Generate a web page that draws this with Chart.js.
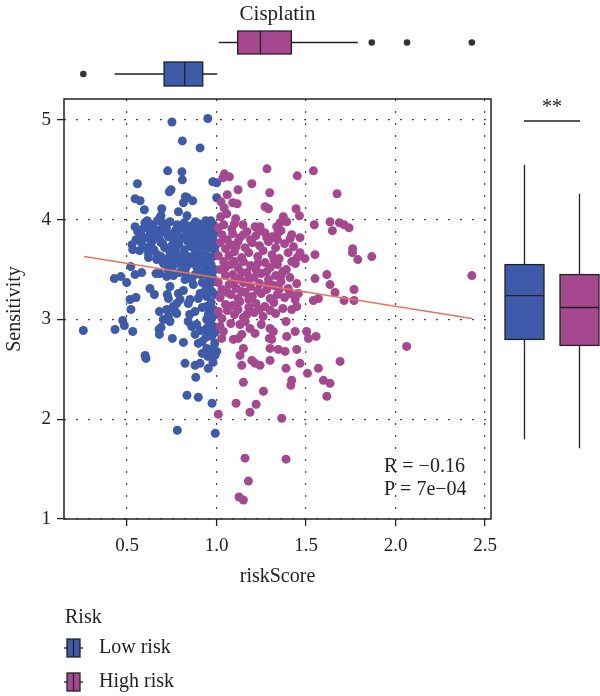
<!DOCTYPE html>
<html>
<head>
<meta charset="utf-8">
<script src="https://cdn.jsdelivr.net/npm/chart.js@4.4.1/dist/chart.umd.min.js"></script>
<style>
  html, body { margin: 0; padding: 0; background: #fff; }
  #wrap { width: 600px; height: 696px; }
</style>
</head>
<body>
<div id="wrap"><canvas id="chart" width="600" height="696"></canvas></div>
<script>
// ── Data ──────────────────────────────────────────────
const drugName = "Cisplatin";
const xTicks = [0.5, 1.0, 1.5, 2.0, 2.5];
const yTicks = [1, 2, 3, 4, 5];
const riskLabels = ["Low risk", "High risk"];

// [riskScore, Sensitivity]
const lowRisk = [
  [0.751,4.98],[0.951,5.015],[0.809,4.79],[0.908,4.72],[0.727,4.49],[0.807,4.48],[0.809,4.40],[0.558,4.36],
  [0.746,4.30],[0.736,4.28],[0.979,4.38],[1.001,4.37],[0.545,4.21],[0.573,4.19],[0.826,4.23],[0.837,4.22],
  [0.867,4.19],[0.815,4.17],[1.001,4.22],[0.597,4.10],[0.694,4.11],[0.787,4.08],[0.835,4.04],[0.882,3.98],
  [0.613,3.99],[0.545,3.93],[0.690,4.04],[0.684,4.02],[0.528,3.75],
  [0.968,3.99],[0.982,3.95],[0.936,3.90],[0.992,3.87],[0.954,3.83],[0.917,3.77],[0.964,3.75],[0.992,3.73],
  [0.532,3.70],[0.521,3.53],[0.429,3.41],[0.466,3.43],[0.498,3.37],[0.545,3.45],[0.582,3.47],[0.628,3.31],
  [0.653,3.25],[0.517,3.20],[0.550,3.22],[0.522,3.10],[0.476,2.99],[0.485,2.94],[0.532,2.88],[0.433,2.90],
  [0.256,2.89],[0.601,2.64],[0.606,2.61],[0.679,2.90],[0.681,2.85],[0.690,2.92],[0.753,2.81],[0.681,3.08],
  [0.722,3.10],[0.759,3.13],[0.768,3.08],[0.725,3.25],[0.731,3.21],[0.787,3.26],[0.815,3.29],[0.824,3.40],
  [0.684,3.46],[0.722,3.43],[0.759,3.44],[0.662,3.46],[0.852,3.20],[0.842,3.16],[0.898,3.21],[0.908,3.26],
  [0.945,3.23],[0.973,3.28],[0.945,3.13],[0.982,3.10],[0.954,3.05],[0.842,2.98],[0.861,2.93],[0.889,2.95],
  [0.908,2.89],[0.945,2.91],[0.973,2.83],[0.982,2.93],[0.815,2.77],[0.898,2.76],[0.945,2.71],[0.992,2.64],
  [1.001,2.68],[0.951,2.63],[0.824,2.56],[0.880,2.54],[0.908,2.56],[0.954,2.51],[0.884,2.42],[0.870,3.35],
  [0.920,3.37],[0.860,3.40],[0.740,3.33],[0.778,3.16],[0.796,3.20],[0.731,3.03],[0.703,3.00],[0.740,2.98],
  [0.778,3.06],[0.945,3.00],[0.973,3.01],[0.666,3.60],[0.703,3.56],[0.740,3.57],[0.778,3.60],[0.815,3.58],
  [0.861,3.60],[0.908,3.56],[0.729,3.50],[0.755,3.53],[0.793,3.47],[0.829,3.45],[0.945,3.53],[0.973,3.46],
  [0.982,3.41],[0.835,2.24],[0.898,2.22],[0.975,2.16],[0.781,1.89],[0.993,1.86],
  [0.60,3.97],[0.64,3.95],[0.67,3.99],[0.71,3.96],[0.74,3.98],[0.78,3.95],[0.82,3.97],[0.86,3.94],
  [0.90,3.96],[0.94,3.99],[0.97,3.95],[0.56,3.88],[0.59,3.91],[0.63,3.86],[0.66,3.90],[0.69,3.87],
  [0.72,3.92],[0.75,3.85],[0.77,3.89],[0.80,3.92],[0.83,3.87],[0.85,3.90],[0.88,3.86],[0.91,3.91],
  [0.93,3.87],[0.96,3.89],[0.99,3.92],[0.55,3.80],[0.58,3.77],[0.61,3.82],[0.64,3.78],[0.68,3.81],
  [0.70,3.76],[0.73,3.83],[0.76,3.79],[0.79,3.76],[0.81,3.82],[0.84,3.78],[0.87,3.81],[0.89,3.76],
  [0.92,3.83],[0.95,3.78],[0.98,3.81],[0.99,3.75],[0.57,3.69],[0.60,3.72],[0.62,3.66],[0.65,3.70],
  [0.67,3.65],[0.71,3.72],[0.74,3.67],[0.77,3.71],[0.80,3.65],[0.82,3.70],[0.86,3.73],[0.88,3.67],
  [0.91,3.70],[0.94,3.65],[0.96,3.72],[0.99,3.68],[0.93,3.58],[0.97,3.55],[0.99,3.50],[0.95,3.44],
  [0.99,3.38],[0.96,3.32],[0.93,3.48],[0.89,3.52],[0.85,3.56],[0.99,3.25],[0.97,3.17],[0.99,3.05],
  [0.96,2.97],[0.99,2.87],[0.94,2.82],[0.99,2.76],[0.97,2.70],
  [0.62,3.62],[0.69,3.63],[0.73,3.61],[0.76,3.64],[0.84,3.63],[0.89,3.62],[0.95,3.61],[0.98,3.63],
  [0.63,3.74],[0.69,3.77],[0.75,3.74],[0.79,3.80],[0.85,3.84],[0.90,3.80],[0.58,3.84],[0.66,3.84],
  [0.72,3.88],[0.78,3.86],[0.81,3.94],[0.87,3.91],[0.92,3.94],[0.70,3.94],[0.62,3.92],[0.94,3.74],
  [0.97,3.85],[0.91,3.63],[0.87,3.57],[0.80,3.55],[0.83,3.52],[0.91,3.45],[0.88,3.45],[0.96,3.38],
  [0.94,3.30],[0.92,3.12],[0.88,3.08],[0.85,3.05],[0.95,2.87],[0.92,2.78],[0.88,2.85],[0.98,2.57],
  [0.92,2.66]
];

const highRisk = [
  [1.044,4.46],[1.072,4.43],[1.035,4.42],[1.282,4.51],[1.451,4.44],[1.541,4.49],[1.197,4.36],[1.297,4.27],
  [1.673,4.26],[1.025,4.18],[1.090,4.17],[1.115,4.16],[1.042,4.12],[1.271,4.13],[1.290,4.11],[1.444,4.11],
  [1.057,4.06],[1.023,4.03],[1.463,4.04],[1.107,4.01],[1.148,3.95],[1.373,4.03],[1.392,3.98],[1.355,3.97],
  [1.546,3.95],[1.634,3.98],[1.686,3.97],[1.712,3.95],[1.740,3.92],[1.647,3.89],[1.215,3.93],[1.243,3.93],
  [1.085,3.91],[1.336,3.93],[1.340,3.86],[1.466,3.82],[1.411,3.81],[1.760,3.71],
  [1.466,3.67],[1.494,3.61],[1.550,3.65],[1.759,3.67],[1.789,3.60],[1.550,3.41],[1.616,3.45],[1.634,3.35],
  [1.662,3.27],[1.768,3.30],[1.712,3.19],[1.768,3.19],[1.541,3.19],[1.569,3.21],[1.448,3.36],[1.457,3.26],
  [1.439,3.20],[1.448,3.13],[1.420,3.10],[1.388,2.98],[1.299,2.91],[1.317,2.88],[1.295,2.81],[1.308,2.80],
  [1.392,2.83],[1.439,2.88],[1.503,2.88],[1.513,2.81],[1.556,2.83],[1.131,2.95],[1.187,2.91],[1.215,2.86],
  [1.141,2.85],[1.038,2.88],[1.029,2.81],[1.094,2.80],[1.122,2.81],[1.150,2.71],[1.131,2.64],[1.141,2.54],
  [1.299,2.71],[1.345,2.70],[1.383,2.68],[1.448,2.70],[1.215,2.56],[1.243,2.54],[1.197,2.59],[1.299,2.59],
  [1.388,2.51],[1.466,2.56],[1.508,2.46],[1.569,2.51],[1.690,2.58],[1.597,2.39],[1.634,2.36],[1.420,2.39],
  [1.415,2.34],[1.150,2.37],[1.262,2.28],[1.616,2.23],[1.867,3.63],[2.426,3.44],[2.062,2.73],
  [1.010,2.05],[1.109,2.16],[1.221,2.15],[1.187,2.07],[1.364,2.01],[1.159,1.61],[1.388,1.60],[1.178,1.38],
  [1.126,1.22],[1.150,1.19],
  [1.01,3.92],[1.03,3.85],[1.02,3.77],[1.05,3.71],[1.01,3.64],[1.04,3.58],[1.02,3.50],[1.05,3.44],
  [1.01,3.37],[1.03,3.30],[1.02,3.22],[1.05,3.15],[1.01,3.08],[1.03,3.01],[1.02,2.93],
  [1.09,3.86],[1.13,3.82],[1.17,3.88],[1.22,3.84],[1.27,3.87],[1.31,3.83],[1.36,3.89],[1.42,3.85],
  [1.08,3.75],[1.12,3.78],[1.16,3.72],[1.20,3.77],[1.24,3.74],[1.29,3.78],[1.33,3.72],[1.38,3.76],[1.43,3.73],
  [1.07,3.64],[1.10,3.68],[1.14,3.62],[1.18,3.67],[1.23,3.63],[1.26,3.69],[1.31,3.65],[1.35,3.61],[1.40,3.67],[1.45,3.62],
  [1.08,3.55],[1.12,3.52],[1.15,3.58],[1.19,3.54],[1.22,3.50],[1.27,3.57],[1.30,3.52],[1.34,3.55],[1.39,3.50],[1.44,3.56],
  [1.09,3.45],[1.13,3.41],[1.17,3.47],[1.21,3.42],[1.25,3.46],[1.29,3.40],[1.33,3.44],[1.37,3.48],[1.41,3.42],
  [1.07,3.35],[1.11,3.31],[1.15,3.37],[1.19,3.33],[1.24,3.36],[1.28,3.30],[1.32,3.34],[1.36,3.38],[1.40,3.31],
  [1.08,3.25],[1.12,3.21],[1.16,3.27],[1.20,3.23],[1.25,3.26],[1.30,3.21],[1.34,3.25],[1.38,3.22],
  [1.09,3.14],[1.13,3.18],[1.18,3.12],[1.22,3.16],[1.27,3.13],[1.32,3.17],[1.37,3.11],
  [1.10,3.05],[1.15,3.02],[1.21,3.07],[1.26,3.03],[1.33,3.06],
  [1.06,3.80],[1.11,3.73],[1.15,3.85],[1.19,3.80],[1.24,3.89],[1.28,3.82],[1.34,3.80],[1.05,3.52],
  [1.10,3.58],[1.14,3.47],[1.18,3.41],[1.23,3.56],[1.28,3.48],[1.32,3.60],[1.36,3.44],[1.42,3.58],
  [1.06,3.27],[1.10,3.38],[1.14,3.28],[1.18,3.20],[1.23,3.29],[1.29,3.36],[1.35,3.30],[1.41,3.26],
  [1.06,3.09],[1.12,3.10],[1.17,3.05],[1.24,3.10],[1.30,3.09],[1.08,2.96],[1.16,2.98],[1.25,2.95],
  [1.04,3.95],[1.10,3.96],[1.06,4.25],[1.12,4.30]
];

// fitted regression line end points
const fitLine = [[0.26, 3.631], [2.426, 3.009]];
const corrText = ["R = \u22120.16", "P = 7e\u221204"];

// boxplot stats: [lowWhisker, Q1, median, Q3, highWhisker]
const scoreBoxLow = [0.431, 0.707, 0.822, 0.923, 1.004];
const scoreBoxHigh = [1.012, 1.118, 1.245, 1.418, 1.789];
const scoreOutLow = [0.256];
const scoreOutHigh = [1.867, 2.064, 2.426];
const sensBoxLow = [1.80, 2.80, 3.24, 3.55, 4.55];
const sensBoxHigh = [1.71, 2.74, 3.12, 3.45, 4.26];
const signifMark = "**";

// ── Style ─────────────────────────────────────────────
const BLUE = "#3D5BA8";
const MAGENTA = "#A6488F";
const INK = "#222222";
const FONT = "'Liberation Serif', 'DejaVu Serif', serif";

Chart.defaults.font.family = FONT;
Chart.defaults.color = INK;

const toPts = (arr) => arr.map(([x, y]) => ({ x, y }));

function drawHBox(ctx, scale, stats, yTop, yBot, fill) {
  const [lo, q1, med, q3, hi] = stats.map((v) => scale.getPixelForValue(v));
  const mid = (yTop + yBot) / 2;
  ctx.beginPath();
  ctx.moveTo(lo, mid); ctx.lineTo(q1, mid);
  ctx.moveTo(q3, mid); ctx.lineTo(hi, mid);
  ctx.stroke();
  ctx.fillStyle = fill;
  ctx.fillRect(q1, yTop, q3 - q1, yBot - yTop);
  ctx.strokeRect(q1, yTop, q3 - q1, yBot - yTop);
  ctx.beginPath();
  ctx.moveTo(med, yTop); ctx.lineTo(med, yBot);
  ctx.stroke();
}

function drawVBox(ctx, scale, stats, xLeft, xRight, fill) {
  const [lo, q1, med, q3, hi] = stats.map((v) => scale.getPixelForValue(v));
  const mid = (xLeft + xRight) / 2;
  ctx.beginPath();
  ctx.moveTo(mid, lo); ctx.lineTo(mid, q1);
  ctx.moveTo(mid, q3); ctx.lineTo(mid, hi);
  ctx.stroke();
  ctx.fillStyle = fill;
  ctx.fillRect(xLeft, q3, xRight - xLeft, q1 - q3);
  ctx.strokeRect(xLeft, q3, xRight - xLeft, q1 - q3);
  ctx.beginPath();
  ctx.moveTo(xLeft, med); ctx.lineTo(xRight, med);
  ctx.stroke();
}

function drawKey(ctx, x, yMid, fill) {
  ctx.beginPath();
  ctx.moveTo(x, yMid); ctx.lineTo(x + 19, yMid);
  ctx.stroke();
  ctx.fillStyle = fill;
  ctx.fillRect(x + 3, yMid - 9, 13, 18);
  ctx.strokeRect(x + 3, yMid - 9, 13, 18);
  ctx.beginPath();
  ctx.moveTo(x + 9.5, yMid - 9); ctx.lineTo(x + 9.5, yMid + 9);
  ctx.stroke();
}

// ── Extras: frame, marginal boxplots, texts, legend ───
const extras = {
  id: "extras",
  afterDraw(chart) {
    const { ctx, chartArea: a, scales } = chart;
    const xs = scales.x, ys = scales.y;
    ctx.save();
    ctx.strokeStyle = INK;
    ctx.lineWidth = 1.5;
    ctx.strokeRect(a.left, a.top, a.right - a.left, a.bottom - a.top);

    // top boxplots (riskScore)
    ctx.lineWidth = 1.3;
    drawHBox(ctx, xs, scoreBoxHigh, a.top - 68, a.top - 45, MAGENTA);
    drawHBox(ctx, xs, scoreBoxLow, a.top - 37, a.top - 13, BLUE);
    ctx.fillStyle = "#333";
    scoreOutHigh.forEach((v) => {
      ctx.beginPath(); ctx.arc(xs.getPixelForValue(v), a.top - 56.5, 3.3, 0, Math.PI * 2); ctx.fill();
    });
    scoreOutLow.forEach((v) => {
      ctx.beginPath(); ctx.arc(xs.getPixelForValue(v), a.top - 25, 3.3, 0, Math.PI * 2); ctx.fill();
    });

    // right boxplots (Sensitivity)
    drawVBox(ctx, ys, sensBoxLow, a.right + 14, a.right + 53, BLUE);
    drawVBox(ctx, ys, sensBoxHigh, a.right + 69, a.right + 108, MAGENTA);
    ctx.beginPath();
    ctx.moveTo(a.right + 33, a.top + 22); ctx.lineTo(a.right + 89, a.top + 22);
    ctx.stroke();

    ctx.fillStyle = INK;
    ctx.textBaseline = "middle";
    ctx.textAlign = "center";
    ctx.font = "20px " + FONT;
    ctx.fillText(signifMark, a.right + 61, a.top + 9);

    ctx.font = "21px " + FONT;
    ctx.fillText(drugName, (a.left + a.right) / 2, 14);

    ctx.font = "20px " + FONT;
    ctx.fillText("riskScore", (a.left + a.right) / 2, a.bottom + 58);
    ctx.save();
    ctx.translate(15, (a.top + a.bottom) / 2);
    ctx.rotate(-Math.PI / 2);
    ctx.fillText("Sensitivity", 0, 0);
    ctx.restore();

    // correlation text
    ctx.textAlign = "left";
    ctx.fillText(corrText[0], a.right - 107, a.bottom - 52);
    ctx.fillText(corrText[1], a.right - 107, a.bottom - 29);

    // legend
    ctx.fillText("Risk", 65, 618);
    drawKey(ctx, 64, 648, BLUE);
    drawKey(ctx, 64, 682, MAGENTA);
    ctx.fillStyle = INK;
    ctx.fillText(riskLabels[0], 99, 648);
    ctx.fillText(riskLabels[1], 99, 682);
    ctx.restore();
  }
};

new Chart(document.getElementById("chart"), {
  type: "scatter",
  data: {
    datasets: [
      {
        type: "line",
        label: "fit",
        data: toPts(fitLine),
        borderColor: "#E8745F",
        borderWidth: 1.5,
        pointRadius: 0,
        order: 0
      },
      {
        label: riskLabels[1],
        data: toPts(highRisk),
        backgroundColor: MAGENTA,
        borderWidth: 0,
        pointRadius: 4.5,
        order: 1
      },
      {
        label: riskLabels[0],
        data: toPts(lowRisk),
        backgroundColor: BLUE,
        borderWidth: 0,
        pointRadius: 4.5,
        order: 2
      }
    ]
  },
  options: {
    responsive: false,
    animation: false,
    devicePixelRatio: 1,
    layout: { padding: { top: 99, right: 109, left: 0, bottom: 0 } },
    plugins: { legend: { display: false }, tooltip: { enabled: false } },
    scales: {
      x: {
        type: "linear",
        min: 0.148,
        max: 2.533,
        afterBuildTicks: (s) => { s.ticks = xTicks.map((v) => ({ value: v })); },
        afterFit: (s) => { s.height = 177; },
        ticks: { padding: 9, font: { size: 19 }, color: INK, callback: (v) => v.toFixed(1) },
        grid: { color: "#444", lineWidth: 1.2, tickLength: 7, tickColor: INK, tickWidth: 1.3 },
        border: { display: false, dash: [2, 10] }
      },
      y: {
        type: "linear",
        min: 1,
        max: 5.21,
        afterBuildTicks: (s) => { s.ticks = yTicks.map((v) => ({ value: v })); },
        afterFit: (s) => { s.width = 64; },
        ticks: { padding: 6, font: { size: 19 }, color: INK },
        grid: { color: "#444", lineWidth: 1.2, tickLength: 7, tickColor: INK, tickWidth: 1.3 },
        border: { display: false, dash: [2, 10] }
      }
    }
  },
  plugins: [extras]
});
</script>
</body>
</html>
